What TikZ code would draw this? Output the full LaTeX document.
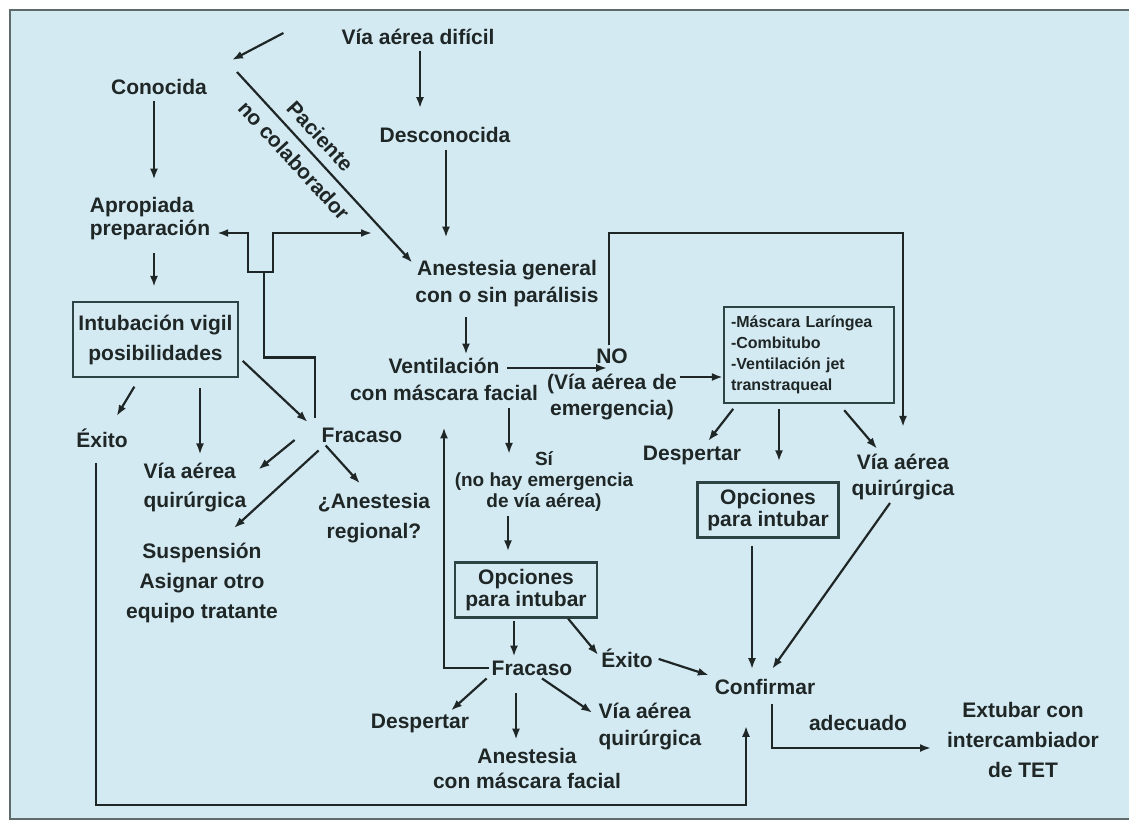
\documentclass[tikz,border=0pt]{standalone}
\usepackage{fontspec}
\setmainfont{Liberation Sans}
\usepackage{tikz}
\usetikzlibrary{arrows.meta}
\definecolor{fondo}{HTML}{D4EAF2}
\definecolor{marco}{HTML}{5E6B6B}
\definecolor{tinta}{HTML}{1F2626}
\definecolor{borde}{HTML}{2E4343}

\begin{document}
\begin{tikzpicture}[x=1pt,y=-1pt,>={Latex[length=11pt,width=8pt]},line width=2.2pt,tinta,
	every node/.style={font=\bfseries\fontsize{21}{27}\selectfont,inner sep=2pt,text=tinta,align=center},
	caja/.style={draw=borde,line width=2.2pt,inner sep=4pt,font=\bfseries\fontsize{21}{22}\selectfont}]
	\useasboundingbox (0,0) rectangle (1129,822);
	\fill[white] (0,0) rectangle (1129,822);
	\fill[fondo] (10,10) rectangle (1140,819);
	\draw[marco,line width=2.4pt] (1140,10) -- (10,10) -- (10,819) -- (1140,819);

	\node (via) at (418,37) {Vía aérea difícil};
	\node (conocida) at (159,87) {Conocida};
	\node (desconocida) at (445,135) {Desconocida};
	\node[align=left,font=\bfseries\fontsize{21}{23}\selectfont] (apropiada) at (150,219) {Apropiada\\preparación};
	\node (anestesia) at (507,284) {Anestesia general\\con o sin parálisis};
	\node[caja,minimum width=165,minimum height=75,font=\bfseries\fontsize{21}{30}\selectfont] (intubacion) at (155.5,339.5) {Intubación vigil\\posibilidades};
	\node (exito) at (102,438) {Éxito};
	\node[align=left,font=\bfseries\fontsize{21}{29}\selectfont] (quirurgicaA) at (195,488) {Vía aérea\\quirúrgica};
	\node (fracasoA) at (362,435) {Fracaso};
	\node[font=\bfseries\fontsize{21}{30}\selectfont] (suspension) at (202,583) {Suspensión\\Asignar otro\\equipo tratante};
	\node[font=\bfseries\fontsize{21}{30}\selectfont] (regional) at (374,518) {¿Anestesia\\regional?};
	\node (ventilacion) at (444,379) {Ventilación\\con máscara facial};
	\node[font=\bfseries\fontsize{21}{26}\selectfont] (no) at (612,384) {NO\\(Vía aérea de\\emergencia)};
	\node[caja,align=left,minimum height=96,text width=156pt,inner xsep=7pt,font=\bfseries\fontsize{16}{21}\selectfont] (dispositivos) at (809,355) {-Máscara Laríngea\\-Combitubo\\-Ventilación jet\\transtraqueal};
	\node (despertarA) at (692,455) {Despertar};
	\node[font=\bfseries\fontsize{21}{26}\selectfont] (quirurgicaB) at (903,477) {Vía aérea\\quirúrgica};
	\node[caja,minimum width=141,minimum height=55] (opcionesB) at (768,510) {Opciones\\para intubar};
	\node[font=\bfseries\fontsize{19}{21}\selectfont] (si) at (544,481) {Sí\\(no hay emergencia\\de vía aérea)};
	\node[caja,minimum width=142,minimum height=55] (opcionesA) at (526,590) {Opciones\\para intubar};
	\node (fracasoB) at (532,668) {Fracaso};
	\node (exitoB) at (627,658) {Éxito};
	\node (confirmar) at (765,687) {Confirmar};
	\node (despertarB) at (420,723) {Despertar};
	\node[font=\bfseries\fontsize{21}{25}\selectfont] (facial) at (527,768) {Anestesia\\con máscara facial};
	\node[align=left] (quirurgicaC) at (650,727) {Vía aérea\\quirúrgica};
	\node[font=\bfseries\fontsize{21}{30}\selectfont] (extubar) at (1023,740) {Extubar con\\intercambiador\\de TET};
	\coordinate (rama) at (232,60);
	\coordinate (tee) at (264,272);
	\coordinate (cruce) at (372,233);

	\draw[->] ([xshift=-55pt,yshift=4pt]via.west) -- (rama);
	\draw[->,shorten <=3pt,shorten >=16pt] ([xshift=2pt]via.south) -- ([xshift=2pt]via.south |- desconocida.north);
	\draw[->,shorten <=4pt,shorten >=20pt] ([xshift=1pt]desconocida.south) -- ([xshift=1pt]desconocida.south |- anestesia.north);
	\draw[->,shorten <=3pt,shorten >=15pt] ([xshift=-5pt]conocida.south) -- ([xshift=-5pt]conocida.south |- apropiada.north);
	\draw[->,shorten <=10pt,shorten >=14pt] ([xshift=4pt]apropiada.south) -- ([xshift=4pt]apropiada.south |- intubacion.north);
	\draw[->] ([shift={(5,12)}]rama) -- ([yshift=-5pt]anestesia.north west)
		node [pos=.4,sloped,above=7pt] (paciente) {Paciente}
		node [pos=.4,sloped,below=7pt] (colaborador) {no colaborador};
	\draw ([xshift=-4pt,yshift=7pt]fracasoA.north west) -- ++(0,-60) -| (tee);
	\draw[->,shorten >=4pt] (tee) -| (248,233) -- ([yshift=-14pt]apropiada.east);
	\draw[->] (tee) -| (273,233) -- (cruce);
	\draw[->,shorten <=7pt] ([xshift=22pt]ventilacion.north |- anestesia.south) -- ([xshift=22pt]ventilacion.north);
	\draw[->] ([shift={(63,-11)}]ventilacion.center) -- ([shift={(63,-11)}]ventilacion.center -| no.west);
	\draw[->] ([yshift=7pt]no.east) -- ([yshift=7pt]no.east -| dispositivos.west);
	\draw[->,shorten >=24pt] ([xshift=-3pt]no.north) -- ++(0,-112) -| (quirurgicaB.north);
	\draw[->,shorten <=6pt,shorten >=2pt] ([xshift=14pt]dispositivos.south west) -- ([xshift=15pt]despertarA.north);
	\draw[->,shorten <=5pt,shorten >=20pt] ([xshift=-30pt]dispositivos.south) -- ([xshift=-30pt]dispositivos.south |- opcionesB.north);
	\draw[->,shorten <=8pt,shorten >=3pt] ([xshift=30pt]dispositivos.south) -- ([xshift=-24pt]quirurgicaB.north);
	\draw[->,shorten <=5pt,shorten >=-6pt] (ventilacion.south -| 509,0) -- (si.north -| 509,0);
	\draw[->,shorten <=2pt,shorten >=10pt] (si.south -| 508,0) -- (opcionesA.north -| 508,0);
	\draw[->,shorten <=2pt,shorten >=1pt] (opcionesA.south -| 514,0) -- (fracasoB.north -| 514,0);
	\draw[->] ([xshift=-30pt]opcionesA.south east) -- ([yshift=3pt]exitoB.west);
	\draw[->,shorten <=3pt,shorten >=3pt] (exitoB.east) -- (confirmar.north west);
	\draw[->,shorten <=7pt,shorten >=7pt] (opcionesB.south -| 752,0) -- (confirmar.north -| 752,0);
	\draw[->,shorten >=9pt] ([xshift=-13pt]quirurgicaB.south) -- ([xshift=2pt]confirmar.north);
	\draw[->,shorten >=24pt] (fracasoB.west) -| (ventilacion.south);
	\draw[->] ([xshift=-2pt]fracasoB.south west) -- ([xshift=31pt]despertarB.north);
	\draw[->,shorten <=15pt,shorten >=5pt] (fracasoB.south -| 516,0) -- (facial.north -| 516,0);
	\draw[->,shorten >=4pt] ([xshift=10pt]fracasoB.south) -- ([yshift=12pt]quirurgicaC.west);
	\draw[->,shorten <=12pt,shorten >=28pt] (exito.south -| 96,0) -- (96,805) -| ([xshift=-19pt]confirmar.south);
	\draw[->,shorten <=10pt,shorten >=11pt] ([xshift=-16pt]intubacion.south) -- ([xshift=9pt]exito.north);
	\draw[->,shorten <=10pt,shorten >=6pt] (intubacion.south -| 200,0) -- (quirurgicaA.north -| 200,0);
	\draw[->,shorten <=5pt] ([yshift=-18pt]intubacion.east) -- ([xshift=-11pt,yshift=13pt]fracasoA.west);
	\draw[->] ([xshift=-24pt,yshift=-5pt]fracasoA.west) -- ([xshift=9pt,yshift=-9pt]quirurgicaA.north east);
	\draw[->] ([yshift=-5pt]fracasoA.south west) -- ([xshift=32pt,yshift=12pt]suspension.north);
	\draw[->,shorten >=9pt] ([xshift=7pt]fracasoA.south west) -- ([xshift=-8pt]regional.north);
	\draw[->,shorten <=6pt,shorten >=13pt] ([xshift=7pt]confirmar.south) |- ([yshift=-8pt]extubar.west)
		node [pos=.75,above=14pt] (adecuado) {adecuado};
\end{tikzpicture}
\end{document}
